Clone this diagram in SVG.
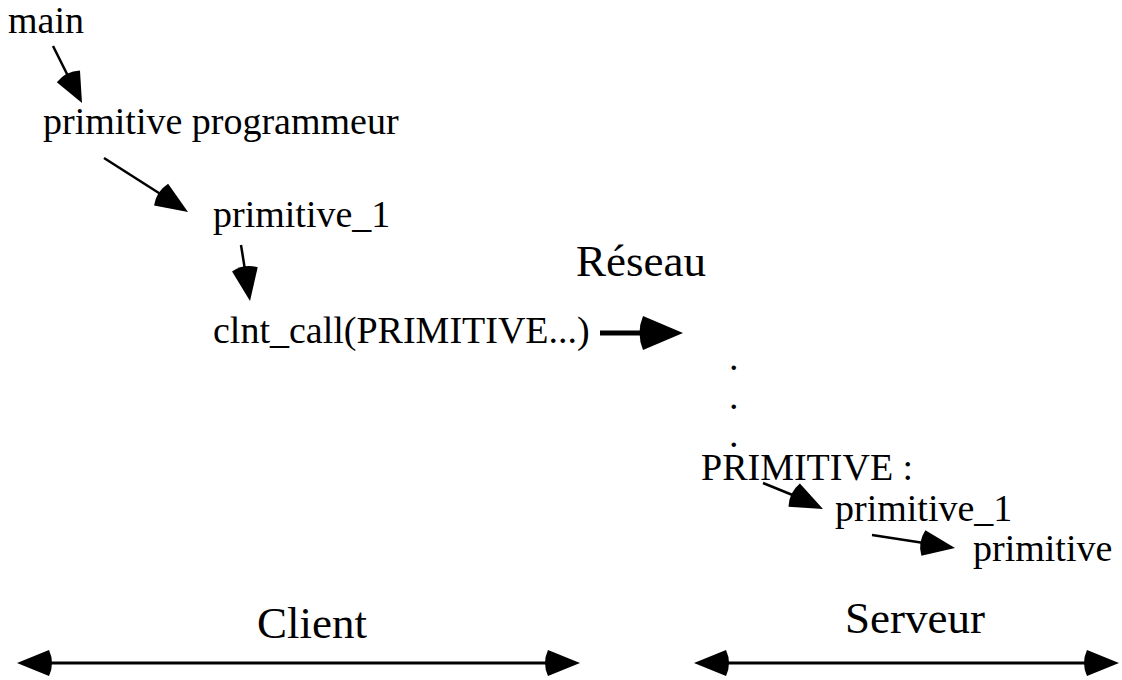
<svg xmlns="http://www.w3.org/2000/svg" width="1122" height="680" viewBox="0 0 1122 680">
<style>
.s{font-size:38px}
.l{font-size:45px}
.ln{stroke:#000;stroke-width:2.5;fill:none}
.bl{stroke:#000;stroke-width:3;fill:none}
.hd{fill:#000;stroke:none}
</style>
<rect width="1122" height="680" fill="#fff"/>
<g font-family="'Liberation Serif', 'Times New Roman', Times, serif" fill="#000">
<g id="n-main"><text class="s" x="8" y="33">main</text></g>
<g id="n-primprog"><text class="s" x="43" y="134">primitive programmeur</text></g>
<g id="n-prim1c"><text class="s" x="213" y="227">primitive_1</text></g>
<g id="n-clnt"><text class="s" x="213" y="343">clnt_call(PRIMITIVE...)</text></g>
<g id="n-reseau"><text class="l" x="576" y="276">Réseau</text></g>
<g id="n-dots"><text class="s" x="729" y="370">.</text><text class="s" x="729" y="409">.</text><text class="s" x="729" y="447">.</text></g>
<g id="n-PRIM"><text class="s" x="701" y="480">PRIMITIVE :</text></g>
<g id="n-prim1s"><text class="s" x="835" y="521">primitive_1</text></g>
<g id="n-prim"><text class="s" x="973" y="561">primitive</text></g>
<g id="n-client"><text class="l" x="257" y="638">Client</text></g>
<g id="n-serveur"><text class="l" x="845" y="633">Serveur</text></g>
</g>
<g id="connectors">
<line class="ln" x1="53" y1="46" x2="69" y2="78"/>
<path class="hd" d="M82,103 L56.8,82.2 Q65.7,70.9 80,70.4 Z"/>
<line class="ln" x1="104" y1="158" x2="162" y2="195"/>
<path class="hd" d="M188,212 L154.1,205.6 Q156.1,191.5 168.1,183.8 Z"/>
<line class="ln" x1="241" y1="245" x2="245" y2="270"/>
<path class="hd" d="M250,301 L232.1,271.5 Q243.9,263.5 257.7,267.3 Z"/>
<line x1="600" y1="333" x2="645" y2="333" stroke="#000" stroke-width="5"/>
<path class="hd" d="M683,333 L643,316 Q636,333 643,350 Z"/>
<line class="ln" x1="763" y1="483" x2="795" y2="496"/>
<path class="hd" d="M823,509 L788.5,506.8 Q788.8,492.5 799.9,483.4 Z"/>
<line class="ln" x1="872" y1="535" x2="924" y2="543"/>
<path class="hd" d="M955,548 L921.4,555.8 Q917.5,542.1 925.4,530.2 Z"/>
<line class="bl" x1="48" y1="663" x2="549" y2="663"/>
<path class="hd" d="M17,663 L49,650 Q55,663 49,676 Z"/>
<path class="hd" d="M580,663 L548,650 Q542,663 548,676 Z"/>
<line class="bl" x1="725" y1="663" x2="1088" y2="663"/>
<path class="hd" d="M694,663 L726,650 Q732,663 726,676 Z"/>
<path class="hd" d="M1119,663 L1087,650 Q1081,663 1087,676 Z"/>
</g>
</svg>
